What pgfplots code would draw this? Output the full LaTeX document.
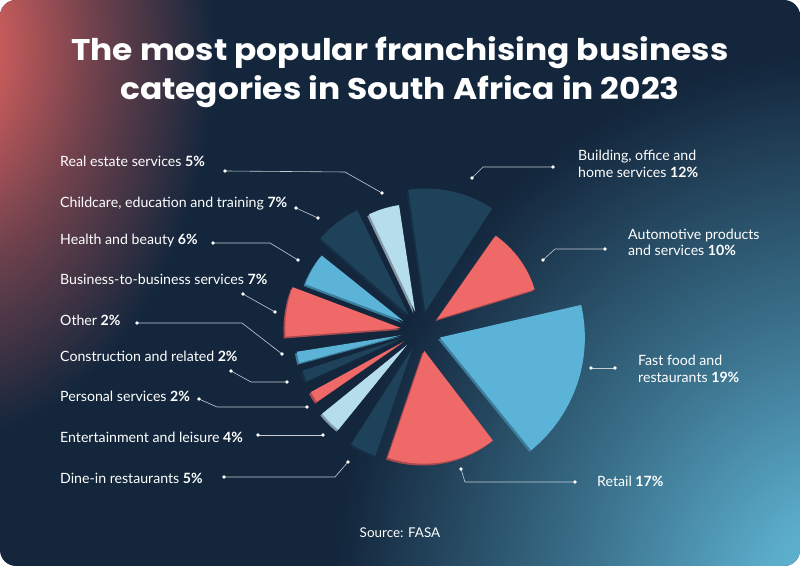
\documentclass[border=0pt]{standalone}
\usepackage{pgfplots}
\pgfplotsset{compat=1.18}
\usepackage{pgfplotstable}
\usepackage{fontspec}
\setmainfont{Lato}
\newfontfamily\titlefont[FakeStretch=1.1]{Poppins}
\definecolor{navy}{HTML}{13263C}
\definecolor{darkslice}{HTML}{1E4259}
\definecolor{darkshadow}{HTML}{142F45}
\definecolor{redslice}{HTML}{EE6967}
\definecolor{redshadow}{HTML}{A84A50}
\definecolor{blueslice}{HTML}{5BB4D7}
\definecolor{blueshadow}{HTML}{3B7D9B}
\definecolor{paleslice}{HTML}{B5DDEC}
\definecolor{paleshadow}{HTML}{8298A6}
\definecolor{glowred}{HTML}{DE625F}
\definecolor{glowblue}{HTML}{62BBDA}
\definecolor{leadercol}{HTML}{C5CCD4}
\pgfdeclareradialshading{redglow}{\pgfpoint{0bp}{0bp}}{color(0bp)=(glowred); color(5bp)=(glowred!88!navy); color(13bp)=(glowred!45!navy); color(23bp)=(navy); color(50bp)=(navy)}
\pgfdeclareradialshading{blueglow}{\pgfpoint{0bp}{0bp}}{color(0bp)=(glowblue); color(4bp)=(glowblue!90!navy); color(12bp)=(glowblue!50!navy); color(23bp)=(navy); color(50bp)=(navy)}

% wedge tables: angle (deg), radius (px)
\pgfplotstableread{
a r
0 0
57 123
61 123
65 123
69 123
73 123
77 123
81 123
85 123
89 123
93 123
98 123
}\tBuild
\pgfplotstableread{
a r
0 0
17 102
21 102
25 102
29 102
33 102
37 102
41 102
45 102
49 102
53 102
55 102
}\tAuto
\pgfplotstableread{
a r
0 0
-51 145
-47 145
-43 145
-39 145
-35 145
-31 145
-27 145
-23 145
-19 145
-15 145
-11 145
-7 145
-3 145
1 145
5 145
9 145
13 145
}\tFast
\pgfplotstableread{
a r
0 0
-108.8 113
-105 113
-101 113
-97 113
-93 113
-89 113
-85 113
-81 113
-77 113
-73 113
-69 113
-65 113
-61 113
-57 113
-52.6 113
}\tRetail
\pgfplotstableread{
a r
0 0
-122.7 113
-119 113
-115 113
-111 113
-109 113
}\tDine
\pgfplotstableread{
a r
0 0
-141 109
-137 109
-133 109
-129 109
}\tEnt
\pgfplotstableread{
a r
0 0
-151.5 106
-148.4 106
-145.3 106
}\tPers
\pgfplotstableread{
a r
0 0
-162 105
-158.9 105
-155.8 105
}\tCons
\pgfplotstableread{
a r
0 0
-171 106
-167.9 106
-164.8 106
}\tOther
\pgfplotstableread{
a r
0 0
159.3 116
163 116
167 116
171 116
175 116
179 116
184.2 116
}\tBtoB
\pgfplotstableread{
a r
0 0
141.3 105
145 105
149 105
153 105
157 105
159.4 105
}\tHealth
\pgfplotstableread{
a r
0 0
116.2 117
120 117
124 117
128 117
132 117
136 117
139 117
}\tChild
\pgfplotstableread{
a r
0 0
98.6 108
102 108
106 108
110 108
115.3 108
}\tReal

\newcommand{\pieslice}[5]{%
  \addplot[fill=#5, draw=none] table[x expr={\thisrow{r}*cos(\thisrow{a})+(#2)-1.8}, y expr={\thisrow{r}*sin(\thisrow{a})+(#3)-1.8}] {#1};
  \addplot[fill=#4, draw=none] table[x expr={\thisrow{r}*cos(\thisrow{a})+(#2)}, y expr={\thisrow{r}*sin(\thisrow{a})+(#3)}] {#1};
}

\begin{document}
\begin{tikzpicture}
% card background
\fill[white] (0,0) rectangle (800bp,566bp);
\begin{scope}
\clip[rounded corners=16bp] (0,0) rectangle (800bp,566bp);
\fill[navy] (0,0) rectangle (800bp,566bp);
\shade[shading=blueglow] (850bp,-40bp) ellipse [x radius=560bp, y radius=600bp];
\shade[shading=redglow] (-60bp,520bp) ellipse [x radius=300bp, y radius=430bp];
\end{scope}

\begin{axis}[scale only axis, width=800bp, height=566bp,
  xmin=-421, xmax=379, ymin=-235, ymax=331,
  hide axis, clip=false, at={(0,0)}, anchor=south west, no markers]
\pieslice{\tBuild}{4.33}{19.53}{darkslice}{darkshadow}
\pieslice{\tAuto}{16.18}{11.76}{redslice}{redshadow}
\pieslice{\tFast}{18.91}{-6.51}{blueslice}{blueshadow}
\pieslice{\tRetail}{3.23}{-19.74}{redslice}{redshadow}
\pieslice{\tDine}{-8.72}{-18.0}{darkslice}{darkshadow}
\pieslice{\tEnt}{-14.14}{-14.14}{paleslice}{paleshadow}
\pieslice{\tPers}{-17.03}{-10.48}{redslice}{redshadow}
\pieslice{\tCons}{-18.66}{-7.20}{darkslice}{darkshadow}
\pieslice{\tOther}{-19.56}{-4.19}{blueslice}{blueshadow}
\pieslice{\tBtoB}{-19.79}{2.87}{redslice}{redshadow}
\pieslice{\tHealth}{-17.38}{9.89}{blueslice}{blueshadow}
\pieslice{\tChild}{-12.20}{15.85}{darkslice}{darkshadow}
\pieslice{\tReal}{-5.83}{19.13}{paleslice}{paleshadow}
\end{axis}

\begin{scope}[x=1bp, y=-1bp, yshift=566bp,
  lab/.style={anchor=base west, inner sep=0pt, text=white, font=\fontsize{14.2}{17}\selectfont},
  leader/.style={draw=leadercol, line width=0.6bp},
  dot/.style={fill=white}]
% title
\node[anchor=base, inner sep=0pt, text=white, font=\titlefont\bfseries\fontsize{30}{36}\selectfont] at (400,61) {The most popular franchising business};
\node[anchor=base, inner sep=0pt, text=white, font=\titlefont\bfseries\fontsize{30}{36}\selectfont] at (400,100) {categories in South Africa in 2023};
% left labels
\node[lab] at (60,167) {Real estate services \textbf{5\%}};
\node[lab] at (60,208) {Childcare, education and training \textbf{7\%}};
\node[lab] at (60,245) {Health and beauty \textbf{6\%}};
\node[lab] at (60,285) {Business-to-business services \textbf{7\%}};
\node[lab] at (60,326) {Other \textbf{2\%}};
\node[lab] at (60,362) {Construction and related \textbf{2\%}};
\node[lab] at (60,402) {Personal services \textbf{2\%}};
\node[lab] at (60,443) {Entertainment and leisure \textbf{4\%}};
\node[lab] at (60,484) {Dine-in restaurants \textbf{5\%}};
% right labels
\node[lab] at (578,160.5) {Building, office and};
\node[lab] at (578,177.5) {home services \textbf{12\%}};
\node[lab] at (628,239.5) {Automotive products};
\node[lab] at (628,256) {and services \textbf{10\%}};
\node[lab] at (638,366) {Fast food and};
\node[lab] at (638,382.5) {restaurants \textbf{19\%}};
\node[lab] at (597,486.5) {Retail \textbf{17\%}};
% source
\node[anchor=base, inner sep=0pt, text=white, font=\fontsize{13.5}{15}\selectfont] at (400,538) {Source: FASA};
% leaders
\draw[leader] (225,171) -- (345,172) -- (382,193);
\draw[leader] (296,208) -- (318,218);
\draw[leader] (213,243) -- (270,243) -- (298,260);
\draw[leader] (243,294) -- (275,312);
\draw[leader] (137,323) -- (242,323) -- (282,354);
\draw[leader] (231,371) -- (251,382) -- (287,382);
\draw[leader] (199,399) -- (217,407) -- (307,407);
\draw[leader] (258,435) -- (323,435);
\draw[leader] (224,477) -- (335,477) -- (348,462);
\draw[leader] (472,178) -- (483,167) -- (553,167);
\draw[leader] (543,260) -- (555,249) -- (605,249);
\draw[leader] (591,368) -- (615,368);
\draw[leader] (461,469) -- (465,482) -- (575,482);
\foreach \p in {(225,171),(382,193),(296,208),(318,218),(213,243),(298,260),(243,294),(275,312),(137,323),(282,354),(231,371),(287,382),(199,399),(307,407),(258,435),(323,435),(224,477),(348,462),(472,178),(553,167),(543,260),(605,249),(591,368),(615,368),(461,469),(575,482)}
  \fill[dot] \p circle[radius=1.9];
\end{scope}
\end{tikzpicture}
\end{document}
